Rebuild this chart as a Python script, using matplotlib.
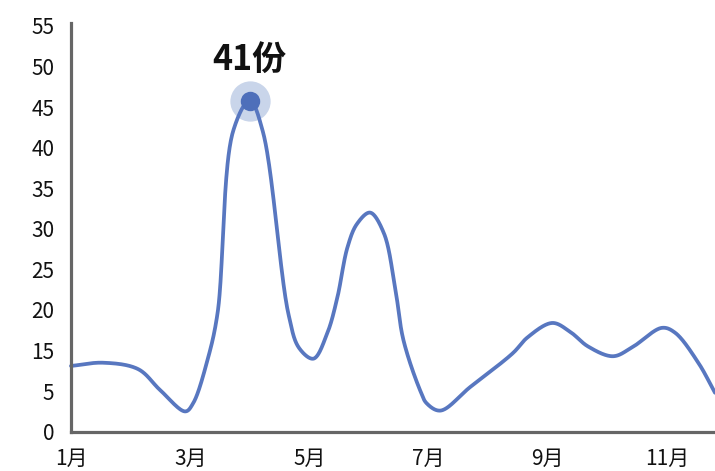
import numpy as np
import matplotlib
matplotlib.use("Agg")
import matplotlib.pyplot as plt

plt.rcParams['font.family'] = ['Noto Sans CJK SC', 'DejaVu Sans']

# ---- data ----
month_labels = ["1月", "3月", "5月", "7月", "9月", "11月"]
month_ticks = [1, 3, 5, 7, 9, 11]
y_tick_values = [0, 5, 10, 15, 20, 25, 30, 35, 40, 45, 50]
y_tick_labels = ["0", "5", "15", "20", "25", "30", "35", "40", "45", "50", "55"]

# traced positions along the month axis and the counts there
month_pos = [1.00, 1.54, 2.13, 2.50, 2.92, 3.05, 3.29, 3.46, 3.72, 4.00,
             4.22, 4.65, 4.83, 5.07, 5.30, 5.47, 5.64, 5.80, 6.02, 6.25,
             6.44, 6.58, 6.86, 6.97, 7.20, 7.70, 8.42, 8.66, 9.08, 9.38, 9.68,
             10.10, 10.42, 10.92, 11.14, 11.53, 11.81]
counts = [8.1, 8.5, 7.7, 5.1, 2.5, 3.5, 8.8, 14.6, 37.0, 40.8,
          37.0, 14.5, 10.3, 9.0, 12.1, 16.5, 22.7, 25.6, 27.0, 24.5,
          17.8, 11.3, 5.1, 3.5, 2.6, 5.5, 9.7, 11.6, 13.4, 12.3, 10.5,
          9.3, 10.4, 12.8, 12.2, 8.5, 4.8]

peak_month = 4
peak_value = 40.8
peak_label = "41份"


def smooth_curve(x, y, sx=59.6, sy=8.12, alpha=0.5, n=40):
    """Centripetal Catmull-Rom through the points (computed in screen-like scale)."""
    P = np.column_stack([np.asarray(x, float) * sx, np.asarray(y, float) * sy])
    P = np.vstack([2 * P[0] - P[1], P, 2 * P[-1] - P[-2]])
    out = []
    for i in range(1, len(P) - 2):
        p0, p1, p2, p3 = P[i - 1], P[i], P[i + 1], P[i + 2]
        t0 = 0.0
        t1 = t0 + np.linalg.norm(p1 - p0) ** alpha
        t2 = t1 + np.linalg.norm(p2 - p1) ** alpha
        t3 = t2 + np.linalg.norm(p3 - p2) ** alpha
        t = np.linspace(t1, t2, n, endpoint=(i == len(P) - 3))[:, None]
        a1 = (t1 - t) / (t1 - t0) * p0 + (t - t0) / (t1 - t0) * p1
        a2 = (t2 - t) / (t2 - t1) * p1 + (t - t1) / (t2 - t1) * p2
        a3 = (t3 - t) / (t3 - t2) * p2 + (t - t2) / (t3 - t2) * p3
        b1 = (t2 - t) / (t2 - t0) * a1 + (t - t0) / (t2 - t0) * a2
        b2 = (t3 - t) / (t3 - t1) * a2 + (t - t1) / (t3 - t1) * a3
        c = (t2 - t) / (t2 - t1) * b1 + (t - t1) / (t2 - t1) * b2
        out.append(c)
    out = np.vstack(out)
    return out[:, 0] / sx, out[:, 1] / sy


fig = plt.figure(figsize=(7.15, 4.71), dpi=100)
ax = fig.add_axes([71 / 715, (471 - 431.7) / 471, (715 - 71) / 715, (431.7 - 22.7) / 471])

xs, ys = smooth_curve(month_pos, counts)
line_color = "#5877C0"
ax.plot(xs, ys, color=line_color, lw=2.7, solid_capstyle="round", zorder=2, clip_on=False)

# highlighted peak
ax.plot([peak_month], [peak_value], "o", ms=29, color="#C9D5EA", mec="none", zorder=1)
ax.plot([peak_month], [peak_value], "o", ms=14, color="#4E6FBA", mec="none", zorder=3)
ax.annotate(peak_label, (peak_month, peak_value), xytext=(0, 29.5), textcoords="offset points",
            ha="center", va="center", fontsize=24.5, fontweight="bold", color="#111111")

ax.set_xlim(1, 1 + (715 - 70.7) / 59.6)
ax.set_ylim(0, 50.4)
ax.set_xticks(month_ticks)
ax.set_xticklabels(month_labels)
ax.set_yticks(y_tick_values)
ax.set_yticklabels(y_tick_labels)
ax.tick_params(axis="both", length=0, labelsize=15, colors="#111111")
ax.tick_params(axis="y", pad=12)
ax.tick_params(axis="x", pad=12)

for s in ["top", "right"]:
    ax.spines[s].set_visible(False)
for s in ["left", "bottom"]:
    ax.spines[s].set_color("#666666")
    ax.spines[s].set_linewidth(2.3)
ax.spines["left"].set_capstyle("projecting")

fig.savefig("out.png", dpi=100)
